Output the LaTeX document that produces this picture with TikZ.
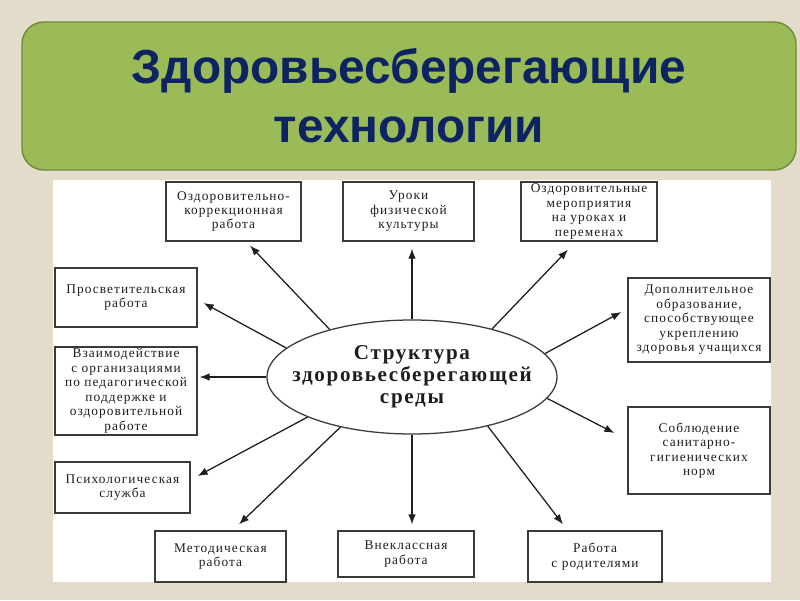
\documentclass[tikz,border=0pt]{standalone}
\usepackage{fontspec}
\setmainfont{Liberation Serif}
\newfontfamily\headfont{Liberation Sans}
\newfontfamily\boxfont[LetterSpace=8]{Liberation Serif}
\usepackage{tikz}
\usetikzlibrary{arrows.meta, shapes.geometric, calc}
\definecolor{Linen}{HTML}{E4DCCA}
\definecolor{Leaf}{HTML}{9BBB59}
\definecolor{LeafEdge}{HTML}{6F8A3A}
\definecolor{TitleNavy}{HTML}{0E2462}
\definecolor{Ink}{HTML}{1E1E1E}
\definecolor{BoxEdge}{HTML}{3A3A3A}

\begin{document}
\begin{tikzpicture}[
        x=0.25mm,
        y=-0.25mm,
        font=\boxfont\fontsize{9.5}{10.3}\selectfont,
        spoke/.style={-{Latex[length=2.5mm,width=1.9mm]}, line width=0.9pt, draw=Ink},
        item/.style={draw=BoxEdge, fill=white, line width=0.9pt, align=center, text=Ink, inner sep=1pt},
        hub/.style={ellipse, draw=BoxEdge, fill=white, line width=0.9pt, align=center, text=Ink, inner xsep=-4.6mm, inner ysep=0pt,
          minimum width=72.5mm, minimum height=28.5mm, font=\boxfont\bfseries\fontsize{15}{15.6}\selectfont},
        titlebox/.style={draw=LeafEdge, fill=Leaf, rounded corners=5.5mm, line width=1pt, align=center, text=TitleNavy,
          minimum width=193.5mm, minimum height=37mm, font=\headfont\bfseries\fontsize{34}{42}\selectfont}
      ]
        \useasboundingbox (0,0) rectangle (800,600);
        \fill[Linen] (0,0) rectangle (800,600);
        \fill[white] (53,180) rectangle (771,582);

        \node[titlebox] (title) at (409,96) {Здоровьесберегающие\\технологии};

        \node[hub] (centre) at (412,377) {Структура\\здоровьесберегающей\\среды};

        % upper row
        \node[item, minimum width=33.75mm, minimum height=14.75mm] (korr) at (233.5,211.5) {Оздоровительно-\\коррекционная\\работа};
        \node[item, minimum width=32.75mm, minimum height=14.75mm] (fizra) at (408.5,211.5) {Уроки\\физической\\культуры};
        \node[item, minimum width=34mm, minimum height=14.75mm] (meropr) at (589,211.5) {Оздоровительные\\мероприятия\\на уроках и\\переменах};

        % left column
        \node[item, minimum width=35.5mm, minimum height=14.75mm] (prosv) at (126,297.5) {Просветительская\\работа};
        \node[item, minimum width=35.5mm, minimum height=22mm] (vzaim) at (126,391) {Взаимодействие\\с организациями\\по педагогической\\поддержке и\\оздоровительной\\работе};
        \node[item, minimum width=33.75mm, minimum height=12.75mm] (psych) at (122.5,487.5) {Психологическая\\служба};

        % right column
        \node[item, minimum width=35.5mm, minimum height=21mm] (dopobr) at (699,320) {Дополнительное\\образование,\\способствующее\\укреплению\\здоровья учащихся};
        \node[item, minimum width=35.5mm, minimum height=21.75mm] (sanpin) at (699,450.5) {Соблюдение\\санитарно-\\гигиенических\\норм};

        % lower row
        \node[item, minimum width=32.75mm, minimum height=12.75mm] (metod) at (220.5,556.5) {Методическая\\работа};
        \node[item, minimum width=34mm, minimum height=11.5mm] (vnekl) at (406,554) {Внеклассная\\работа};
        \node[item, minimum width=33.5mm, minimum height=12.75mm] (roditeli) at (595,556.5) {Работа\\с родителями};

        \draw[spoke] (centre.150) -- ($(korr.south)+(16.5,4)$);
        \draw[spoke] (centre.north) -- ($(centre.north |- fizra.south)+(0,7)$);
        \draw[spoke] (centre.31) -- ($(meropr.south)+(-21,8)$);
        \draw[spoke] (centre.167) -- ($(prosv.east)+(6,5.5)$);
        \draw[spoke] (centre.west) -- ($(centre.west -| vzaim.east)+(2,0)$);
        \draw[spoke] (centre.201) -- ($(psych.east)+(7,-11.5)$);
        \draw[spoke] (centre.215) -- ($(metod.north)+(18.5,-6)$);
        \draw[spoke] (centre.south) -- ($(centre.south |- vnekl.north)+(0,-6)$);
        \draw[spoke] (centre.-33) -- ($(roditeli.north)+(-32,-6)$);
        \draw[spoke] (centre.10.5) -- ($(dopobr.west)+(-6,-8)$);
        \draw[spoke] (centre.-9) -- ($(sanpin.west)+(-13,-17.5)$);
      \end{tikzpicture}
\end{document}
